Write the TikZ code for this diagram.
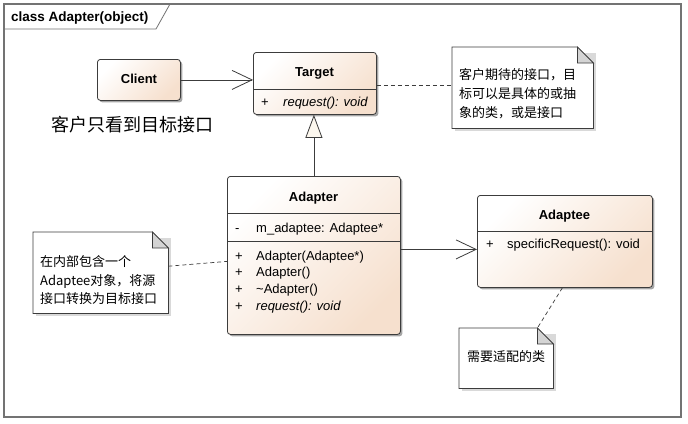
\documentclass[tikz,border=0pt]{standalone}
\usepackage{fontspec}
\setmainfont{Liberation Sans}
\newfontfamily\cjk{Noto Sans CJK SC}
\usetikzlibrary{arrows.meta,shadows}
\definecolor{peach}{RGB}{246,224,206}
\definecolor{linegray}{RGB}{60,60,60}
\definecolor{framegray}{RGB}{115,115,115}
\definecolor{foldgray}{RGB}{212,212,212}
\definecolor{trifill}{RGB}{252,247,238}
\begin{document}
\begin{tikzpicture}[x=1pt,y=-1pt,
  classbox/.style={draw=linegray, line width=0.8pt, rounded corners=3pt, anchor=north west,
    inner sep=0pt, left color=white, right color=peach, shading angle=45,
    drop shadow={shadow xshift=2pt, shadow yshift=-2pt, fill=black, opacity=0.35}},
  notebox/.style={anchor=north west, inner sep=0pt, draw=none},
  mem/.style={font=\fontsize{13}{15}\selectfont, inner sep=0pt, anchor=base west},
  ttl/.style={font=\bfseries\fontsize{13}{15}\selectfont, inner sep=0pt, anchor=base},
  ntxt/.style={font=\cjk\fontsize{13}{15}\selectfont, inner sep=0pt, anchor=base west},
  divider/.style={draw=linegray, line width=0.7pt},
  assoc/.style={draw=linegray, line width=0.8pt, -{Straight Barb[length=20pt,width=19pt,line width=0.8pt]}},
  gen/.style={draw=linegray, line width=0.8pt, -{Triangle[length=23pt,width=17pt,fill=trifill,line width=0.8pt]}},
  notelink/.style={draw=linegray, line width=0.7pt, dash pattern=on 4pt off 3pt},
  noteline/.style={draw=linegray, line width=0.8pt},
  noteshadow/.style={fill=black!15, draw=none},
]
\useasboundingbox (0,0) rectangle (688,423);
\fill[white] (0,0) rectangle (688,423);

% frame
\draw[framegray, line width=1.3pt] (4,4) rectangle (681,417);
\draw[framegray, line width=0.8pt] (4,29) -- (156,29) -- (170,4);
\node[font=\bfseries\fontsize{13.5}{15}\selectfont, inner sep=0pt, anchor=base west] (frametitle) at (11,21) {class Adapter(object)};

% classes
\node[classbox, minimum width=83pt, minimum height=41pt] (client) at (97,59) {};
\node[ttl] (clientname) at (139,83.5) {Client};

\node[classbox, minimum width=123pt, minimum height=62pt] (target) at (253,52) {};
\node[ttl] (targetname) at (314.5,76.5) {Target};
\draw[divider] (target.west |- 0,89) -- (target.east |- 0,89);
\node[mem] (targetvis) at (261,106) {+};
\node[mem] (targetop) at (283,106) {\itshape request(): void};

\node[font=\cjk\fontsize{18}{20}\selectfont, inner sep=0pt, anchor=base west] (caption) at (51,131.5) {客户只看到目标接口};

\node[classbox, minimum width=173pt, minimum height=158pt] (adapter) at (227,176) {};
\node[ttl] (adaptername) at (313.5,201.5) {Adapter};
\draw[divider] (adapter.west |- 0,213) -- (adapter.east |- 0,213);
\draw[divider] (adapter.west |- 0,241) -- (adapter.east |- 0,241);
\node[mem] (attrvis) at (235,232.5) {-};
\node[mem] (attr) at (256,232.5) {m\_adaptee: Adaptee*};
\node[mem] (op1vis) at (235,260) {+};
\node[mem] (op1) at (256,260) {Adapter(Adaptee*)};
\node[mem] (op2vis) at (235,276.5) {+};
\node[mem] (op2) at (256,276.5) {Adapter()};
\node[mem] (op3vis) at (235,293) {+};
\node[mem] (op3) at (256,293) {\textasciitilde Adapter()};
\node[mem] (op4vis) at (235,310) {+};
\node[mem] (op4) at (256,310) {\itshape request(): void};

\node[classbox, minimum width=175pt, minimum height=92pt] (adaptee) at (477,195) {};
\node[ttl] (adapteename) at (564.5,219.5) {Adaptee};
\draw[divider] (adaptee.west |- 0,231) -- (adaptee.east |- 0,231);
\node[mem] (adapteevis) at (486,248.5) {+};
\node[mem] (adapteeop) at (507,248.5) {specificRequest(): void};

% notes
\node[notebox, minimum width=141pt, minimum height=81pt] (n1) at (452,47) {};
\node[notebox, minimum width=135pt, minimum height=81pt] (n2) at (33,232) {};
\node[notebox, minimum width=94pt, minimum height=60pt] (n3) at (459,328) {};
\foreach \n in {n1,n2,n3}{
  \fill[noteshadow] ([xshift=3pt,yshift=-3pt]\n.north west) ++(0,3) rectangle ([xshift=3pt,yshift=-3pt]\n.south east);
  \filldraw[noteline, fill=white] (\n.north west) -- ([xshift=-16pt]\n.north east)
     -- ([yshift=-16pt]\n.north east) -- (\n.south east) -- (\n.south west) -- cycle;
  \filldraw[noteline, fill=foldgray] ([xshift=-16pt]\n.north east) -- ([yshift=-16pt]\n.north east)
     -- ([xshift=-16pt,yshift=-16pt]\n.north east) -- cycle;
}
\node[ntxt] (n1l1) at (459,79) {客户期待的接口，目};
\node[ntxt] (n1l2) at (459,98) {标可以是具体的或抽};
\node[ntxt] (n1l3) at (459,117) {象的类，或是接口};
\node[ntxt] (n2l1) at (40,266) {在内部包含一个};
\node[ntxt] (n2l2) at (40,285) {Adaptee对象，将源};
\node[ntxt] (n2l3) at (40,303) {接口转换为目标接口};
\node[ntxt] (n3l1) at (467,361) {需要适配的类};

% connectors
\draw[assoc] (client.east) -- (client.east -| target.west);
\draw[gen] (adapter.north) -- (adapter.north |- target.south);
\draw[assoc] ([yshift=6pt]adapter.east) -- ([yshift=6pt]adapter.east -| adaptee.west);
\draw[notelink] ([yshift=-2pt]target.east) -- ([yshift=-2pt]target.east -| n1.west);
\draw[notelink] ([yshift=6.5pt]n2.east) -- ([yshift=-6pt]adapter.west);
\draw[notelink] ([xshift=-2.5pt]adaptee.south) -- ([xshift=-16pt]n3.north east);
\end{tikzpicture}
\end{document}
